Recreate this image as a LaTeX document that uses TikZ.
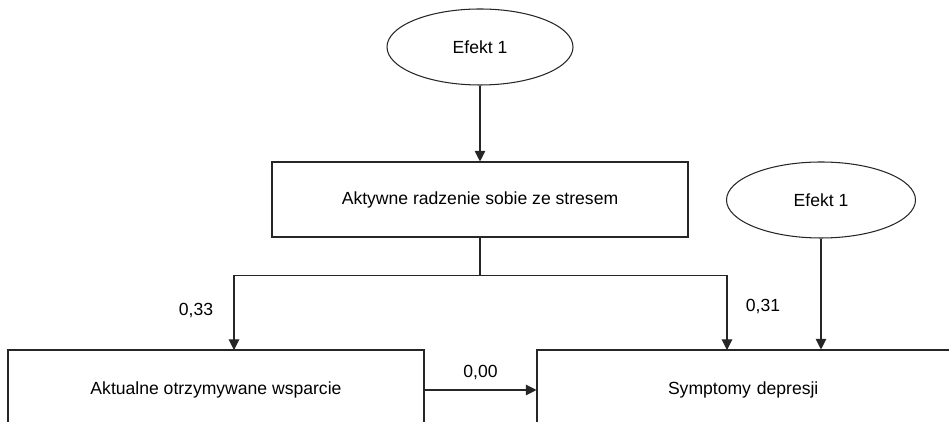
\documentclass[tikz,border=0pt]{standalone}
\usepackage{fontspec}
\setmainfont{Liberation Sans}
\usetikzlibrary{arrows.meta,positioning,shapes.geometric,calc}

\begin{document}
\begin{tikzpicture}[
  font=\fontsize{10}{12}\selectfont,
  line width=0.6pt,
  pole/.style={draw=black!85,rectangle,minimum height=1.5cm},
  efekt/.style={draw=black!85,ellipse,minimum width=3.72cm,minimum height=1.52cm},
  strz/.style={draw=black!85,-{Triangle[length=6pt,width=6pt]}}
]
%Rahmen 949x422 px, 1px = 0.02cm
\useasboundingbox (0,0) rectangle (18.98,-8.44);
\clip (0,0) rectangle (18.98,-8.44);
%obere Ebene
\node[efekt] (ef1) at (9.6,-0.94) {Efekt 1};
\node[pole,minimum width=8.32cm] (akt) at (9.6,-3.99) {Aktywne radzenie sobie ze stresem};
\node[efekt,minimum width=3.78cm] (ef2) at (16.42,-4.0) {Efekt 1};
%untere Ebene (unten abgeschnitten)
\node[pole,minimum width=8.32cm,minimum height=1.6cm] (wsp) at (4.32,-7.8) {Aktualne otrzymywane wsparcie};
\node[pole,minimum width=8.6cm,minimum height=1.6cm,text width=8.2cm,align=left] (dep) at (15.04,-7.8) {\hspace{2.42cm}Symptomy depresji};
%Hilfspunkte
\coordinate (rozg) at ($(akt.south)+(0,-0.76)$);
\coordinate (wspWej) at (4.68,-7.0);
\coordinate (depWej) at (14.54,-7.0);
\coordinate (efWej) at (ef2.south |- dep.north);
%Pfeile
\draw[strz] (ef1) -- (akt);
\draw[draw=black!85] (akt.south) -- (rozg);
\draw[strz] (rozg) -| (wspWej);
\draw[strz] (rozg) -| (depWej);
\draw[strz] (ef2) -- (efWej);
\draw[strz] (wsp.east) --node[above=2pt] {0,00} (wsp.east -| dep.west);
%Koeffizienten
\node (k1) at (3.92,-6.2) {0,33};
\node (k2) at (15.26,-6.12) {0,31};
\end{tikzpicture}
\end{document}
